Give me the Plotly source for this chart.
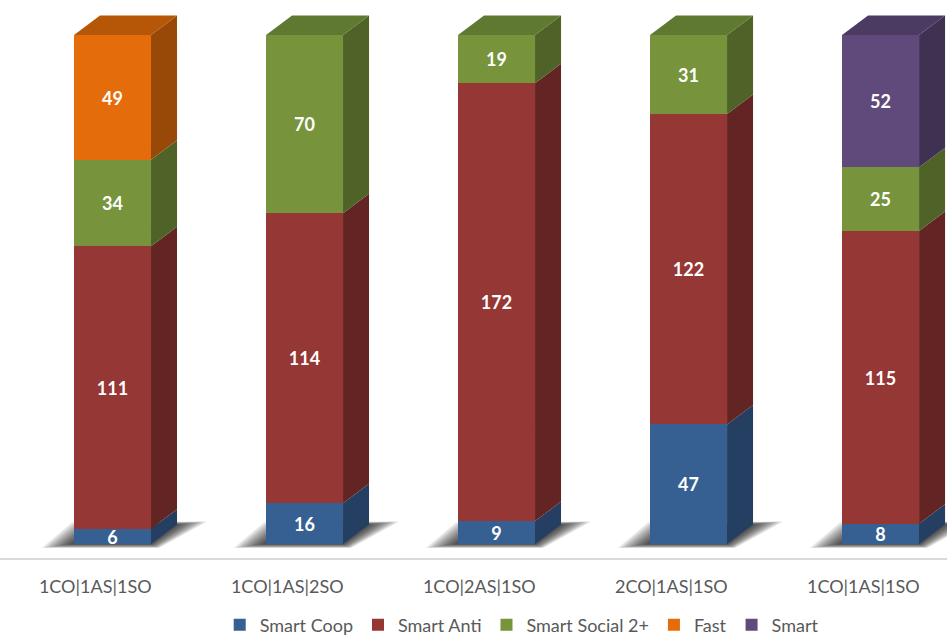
import plotly.graph_objects as go

# Categories and stacked series values
categories = ["1CO|1AS|1SO", "1CO|1AS|2SO", "1CO|2AS|1SO", "2CO|1AS|1SO", "1CO|1AS|1SO"]
smart_coop = [6, 16, 9, 47, 8]
smart_anti = [111, 114, 172, 122, 115]
smart_social = [34, 70, 19, 31, 25]
fast = [49, None, None, None, None]
smart = [None, None, None, None, 52]

series = [
    ("Smart Coop", smart_coop, "#376092", "#243f61", "#2d4f78"),
    ("Smart Anti", smart_anti, "#953735", "#632523", "#7b2d2b"),
    ("Smart Social 2+", smart_social, "#77933c", "#4f6228", "#5f7a30"),
    ("Fast", fast, "#e46c0a", "#984807", "#b65708"),
    ("Smart", smart, "#604a7b", "#3f3151", "#4b3b63"),
]

# Geometry of the pseudo-3D columns (data units)
BAR_W = 0.401
DX = 0.1354      # depth offset along x
DY = 7.66        # depth offset along y
X_RANGE = [-0.586, 4.346]
Y_RANGE = [-5.5, 213.75]
PX_X = 192.0     # pixels per category unit
PX_Y = 2.545     # pixels per value unit

xs = list(range(len(categories)))
fig = go.Figure()

# Front faces: ordinary stacked bars with value labels
for name, vals, front, side, top in series:
    fig.add_trace(go.Bar(
        x=xs, y=vals, name=name, width=BAR_W,
        marker=dict(color=front, line=dict(width=0)),
        text=[("" if v is None else str(v)) for v in vals],
        textposition="inside", insidetextanchor="middle",
        constraintext="none", textangle=0,
        textfont=dict(family="Lato", size=18, color="white", weight="bold"),
        hoverinfo="name+y",
    ))

# Side and top faces computed from the cumulative stack
bases = [0.0] * len(categories)
tops_total = [sum(v for v in (s[1][i] for s in series) if v is not None) for i in xs]
for name, vals, front, side, top in series:
    sx, sy, tx, ty = [], [], [], []
    for i, v in enumerate(vals):
        if v is None:
            continue
        b = bases[i]
        t = b + v
        x1 = i + BAR_W / 2
        x0 = i - BAR_W / 2
        sx += [x1, x1 + DX, x1 + DX, x1, x1, None]
        sy += [b, b + DY, t + DY, t, b, None]
        if abs(t - tops_total[i]) < 1e-9:
            tx += [x0, x0 + DX, x1 + DX, x1, x0, None]
            ty += [t, t + DY, t + DY, t, t, None]
        bases[i] = t
    fig.add_trace(go.Scatter(x=sx, y=sy, mode="lines", fill="toself",
                             fillcolor=side, line=dict(width=0, color=side),
                             hoverinfo="skip", showlegend=False))
    if tx:
        fig.add_trace(go.Scatter(x=tx, y=ty, mode="lines", fill="toself",
                                 fillcolor=top, line=dict(width=0, color=top),
                                 hoverinfo="skip", showlegend=False))

# Soft floor shadows: layers interpolated from a wide outer outline to the
# column footprint, stacked with low opacity so they darken toward the column
DXP = DX * PX_X
DYP = DY * PX_Y
shapes = []
N_LAYERS = 10
for i in xs:
    x0 = i - BAR_W / 2
    x1 = i + BAR_W / 2
    # (x, y) pairs in pixel offsets; y positive = upward
    outer = [(x0 * PX_X - 32, -4), (x1 * PX_X + 8, -4),
             (x1 * PX_X + DXP + 30, DYP + 3), (x0 * PX_X - 2, DYP + 2)]
    inner = [(x0 * PX_X - 2, 0), (x1 * PX_X, 0),
             (x1 * PX_X + DXP, DYP), (x0 * PX_X + DXP, DYP)]
    for k in range(N_LAYERS):
        t = k / (N_LAYERS - 1)
        pts = [((o[0] + (n[0] - o[0]) * t) / PX_X, (o[1] + (n[1] - o[1]) * t) / PX_Y)
               for o, n in zip(outer, inner)]
        path = "M " + " L ".join("{} {}".format(px, py) for px, py in pts) + " Z"
        shapes.append(dict(type="path", path=path, xref="x", yref="y",
                           fillcolor="rgba(0,0,0,0.11)", line=dict(width=0),
                           layer="below"))

fig.update_layout(
    width=947, height=636, autosize=False,
    margin=dict(l=0, r=0, t=0, b=78, autoexpand=False),
    paper_bgcolor="white", plot_bgcolor="white",
    barmode="stack", bargap=0,
    shapes=shapes,
    font=dict(family="Lato", color="#595959", size=18),
    xaxis=dict(range=X_RANGE, tickmode="array",
               tickvals=[i - 0.09 for i in xs], ticktext=categories,
               showgrid=False, zeroline=False, showline=True,
               linecolor="#d9d9d9", linewidth=1.5,
               ticks="", ticklabelstandoff=12,
               tickfont=dict(family="Lato", size=18, color="#595959"),
               fixedrange=True),
    yaxis=dict(range=Y_RANGE, visible=False, fixedrange=True),
    legend=dict(orientation="h", x=0.232, xanchor="left",
                y=-0.12, yanchor="middle",
                font=dict(family="Lato", size=18, color="#595959"),
                traceorder="normal", itemclick=False, itemwidth=30),
    showlegend=True,
)

fig.write_html("out.html")
